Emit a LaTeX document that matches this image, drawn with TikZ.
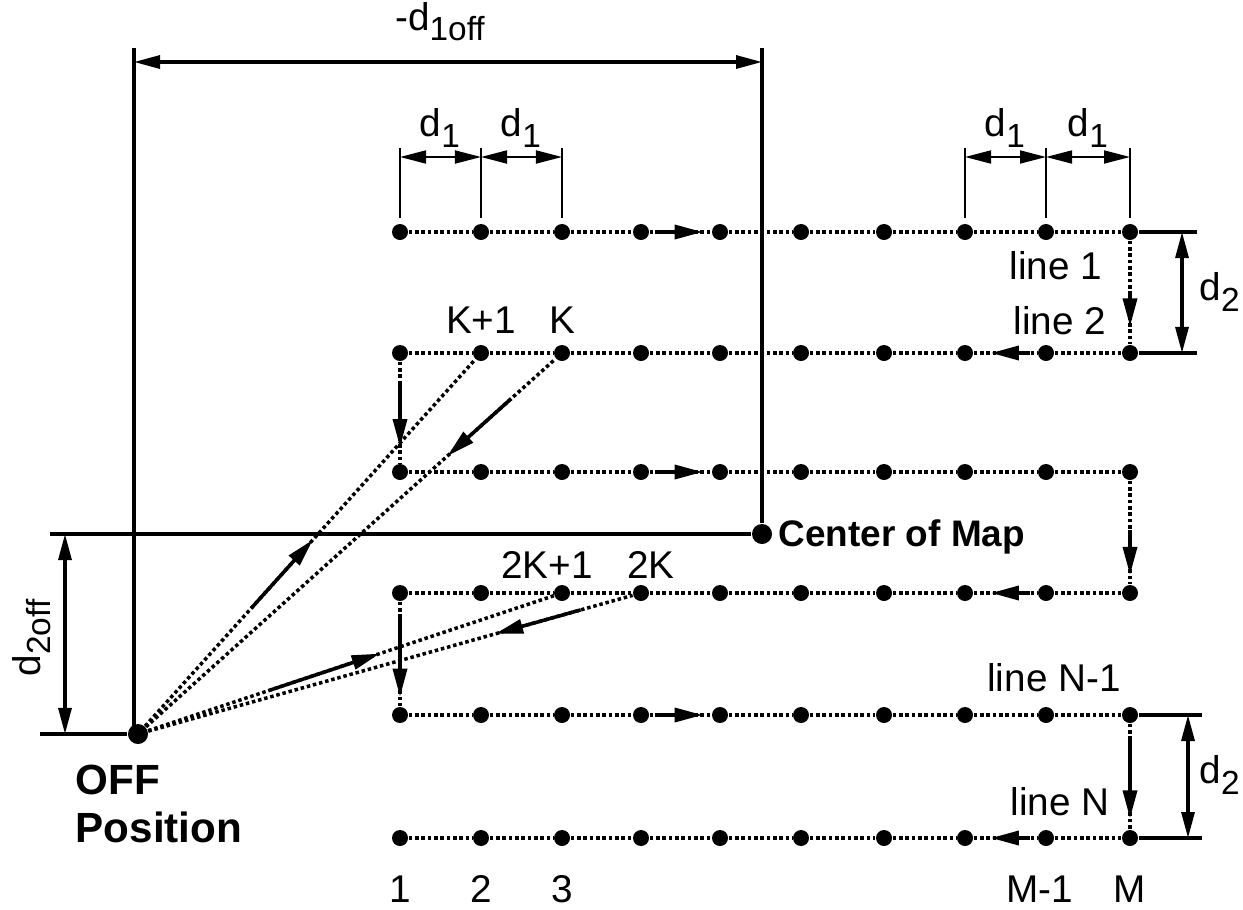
\documentclass[tikz,border=0pt]{standalone}
\usepackage{fontspec}
\setmainfont{Liberation Sans}
\usetikzlibrary{arrows.meta,calc}
\newcommand\dsub[2]{#1\raisebox{-0.5ex}{\fontsize{9.5}{10}\selectfont #2}}
\begin{document}
\begin{tikzpicture}[x=0.01cm,y=-0.01cm,
 dot/.style={circle,fill=black,inner sep=0pt,minimum size=0.16cm},
 bigdot/.style={circle,fill=black,inner sep=0pt,minimum size=0.2cm},
 pathline/.style={line width=1pt,dash pattern=on 1pt off 0.8pt},
 flow/.style={line width=1pt,-{Triangle[length=0.28cm,width=0.14cm]}},
 dimarr/.style={line width=0.5pt,{Triangle[length=0.26cm,width=0.13cm]}-{Triangle[length=0.26cm,width=0.13cm]}},
 bigdim/.style={line width=0.9pt,{Triangle[length=0.26cm,width=0.13cm]}-{Triangle[length=0.26cm,width=0.13cm]}},
 ext/.style={line width=0.35pt},
 heavy/.style={line width=0.9pt},
 lbl/.style={font=\fontsize{11}{13}\selectfont, inner sep=0pt},
 blbl/.style={font=\fontsize{10.5}{11}\selectfont\bfseries, inner sep=0pt}
]
\useasboundingbox (0,0) rectangle (1243,909);

% grid of measurement points
\foreach \y [count=\r] in {232,353,472,593,715,838}
  \foreach \x [count=\c] in {400,481,562,641,720,801,884,965,1046,1130}
    \node[dot] (p\r-\c) at (\x,\y) {};

% scan lines
\foreach \r in {1,...,6}{
  \foreach \c in {1,...,9}{
    \pgfmathtruncatemacro{\nx}{\c+1}
    \draw[pathline] (p\r-\c) -- (p\r-\nx);
  }
}

% turns between lines
\draw[pathline] (p1-10) -- (p2-10);
\draw[pathline] (p2-1) -- (p3-1);
\draw[pathline] (p3-10) -- (p4-10);
\draw[pathline] (p4-1) -- (p5-1);
\draw[pathline] (p5-10) -- (p6-10);

% flow arrows on scan lines
\foreach \r in {1,3,5}
  \draw[flow] ($(p\r-4)!0.18!(p\r-5)$) -- ($(p\r-4)!0.78!(p\r-5)$);
\foreach \r in {2,4,6}
  \draw[flow] ($(p\r-9)!0.2!(p\r-8)$) -- ($(p\r-9)!0.68!(p\r-8)$);

% flow arrows on turns
\draw[flow] ($(p1-10)!0.52!(p2-10)$) -- ($(p1-10)!0.78!(p2-10)$);
\draw[flow] ($(p2-1)!0.25!(p3-1)$) -- ($(p2-1)!0.79!(p3-1)$);
\draw[flow] ($(p3-10)!0.48!(p4-10)$) -- ($(p3-10)!0.85!(p4-10)$);
\draw[flow] ($(p4-1)!0.2!(p5-1)$) -- ($(p4-1)!0.85!(p5-1)$);
\draw[flow] ($(p5-10)!0.2!(p6-10)$) -- ($(p5-10)!0.84!(p6-10)$);

% OFF position and center of map
\node[bigdot] (off) at (138,734) {};
\node[bigdot] (cm) at (762,534) {};

% OFF excursions
\draw[pathline] (off) -- (p2-2);
\draw[pathline] (off) -- (p2-3);
\draw[pathline] (off) -- (p4-3);
\draw[pathline] (off) -- (p4-4);
\draw[flow] ($(off)!0.33!(p2-2)$) -- ($(off)!0.51!(p2-2)$);
\draw[flow] ($(off)!0.88!(p2-3)$) -- ($(off)!0.73!(p2-3)$);
\draw[flow] ($(off)!0.31!(p4-3)$) -- ($(off)!0.57!(p4-3)$);
\draw[flow] ($(off)!0.88!(p4-4)$) -- ($(off)!0.71!(p4-4)$);

% offset reference lines
\coordinate (tl) at (134,48);
\coordinate (tr) at (762,48);
\coordinate (offl) at (40,734);
\coordinate (cml) at (50,534);
\draw[heavy] (tl) -- (tl |- off);
\draw[heavy] (offl) -- (off);
\draw[heavy] (tr) -- (cm);
\draw[heavy] (cml) -- (cm);
\coordinate (da) at (134,62);
\coordinate (db) at (762,62);
\draw[bigdim] (da) -- (db);
\coordinate (dc) at (65,534);
\coordinate (dd) at (65,734);
\draw[bigdim] (dc) -- (dd);

% d2 dimensions on the right
\coordinate (e1) at (1197,232);
\coordinate (e2) at (1197,353);
\coordinate (e3) at (1202,715);
\coordinate (e4) at (1202,838);
\draw[heavy] (p1-10) -- (e1);
\draw[heavy] (p2-10) -- (e2);
\draw[heavy] (p5-10) -- (e3);
\draw[heavy] (p6-10) -- (e4);
\draw[bigdim] (1182,232) -- (1182,353);
\draw[bigdim] (1188,715) -- (1188,838);

% d1 dimensions on the top
\foreach \c in {1,2,3,8,9,10}
  \draw[ext] ($(p1-\c)+(0,-14)$) -- ++(0,-70);
\draw[dimarr] (400,157) -- (481,157);
\draw[dimarr] (481,157) -- (562,157);
\draw[dimarr] (965,157) -- (1046,157);
\draw[dimarr] (1046,157) -- (1130,157);

% labels
\node[lbl] at (440,128) {\dsub{d}{1}};
\node[lbl] at (521,128) {\dsub{d}{1}};
\node[lbl] at (1005,128) {\dsub{d}{1}};
\node[lbl] at (1088,128) {\dsub{d}{1}};
\node[lbl,anchor=west] at (1199,292) {\dsub{d}{2}};
\node[lbl,anchor=west] at (1199,775) {\dsub{d}{2}};
\node[lbl] at (440,22) {-\dsub{d}{1off}};
\node[lbl,rotate=90] at (32,638) {\dsub{d}{2off}};

\node[lbl] at (481,320) {K+1};
\node[lbl] at (562,320) {K};
\node[lbl] at (547,565) {2K+1};
\node[lbl] at (651,565) {2K};

\node[lbl] at (1056,266) {line 1};
\node[lbl] at (1060,321) {line 2};
\node[lbl] at (1054,678) {line N-1};
\node[lbl] at (1060,802) {line N};

\node[lbl] at (400,889) {1};
\node[lbl] at (481,889) {2};
\node[lbl] at (562,889) {3};
\node[lbl] at (1040,889) {M-1};
\node[lbl] at (1130,889) {M};

\node[blbl,anchor=west] at (778,537) {Center of Map};
\node[font=\fontsize{12}{13.6}\selectfont\bfseries,inner sep=0pt,anchor=north west,align=left] at (75,764) {OFF\\Position};
\end{tikzpicture}
\end{document}
